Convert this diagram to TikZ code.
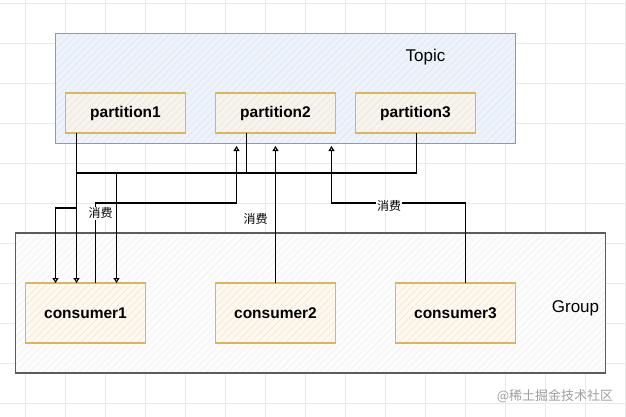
\documentclass[tikz,border=0pt]{standalone}
\usepackage{fontspec}
\setmainfont{Liberation Sans}
\newfontfamily\cjkfont{Noto Sans CJK SC}
\usetikzlibrary{positioning, arrows.meta, calc, patterns.meta}
\definecolor{topicline}{HTML}{7E9CC8}
\definecolor{topicfill}{HTML}{EEF3FB}
\definecolor{topichatch}{HTML}{DCE6F4}
\definecolor{boxline}{HTML}{D9B65A}
\definecolor{partfill}{HTML}{F7F4EE}
\definecolor{parthatch}{HTML}{ECE6DA}
\definecolor{confill}{HTML}{FDF9F0}
\definecolor{conhatch}{HTML}{F4E6CC}
\definecolor{groupline}{HTML}{5C5C5C}
\definecolor{groupfill}{HTML}{FCFCFC}
\definecolor{grouphatch}{HTML}{F0F0F0}
\definecolor{gridcol}{HTML}{E8E8E8}
\tikzset{
	hatched/.style 2 args={preaction={fill=#1}, preaction={pattern={Lines[angle=45,distance=5pt,line width=.6pt]}, pattern color=#2}},
	arrow/.style={-{Triangle[open,length=5pt,width=6pt]}, line width=1.1pt}
}

\begin{document}
\begin{tikzpicture}[x=1pt, y=-1pt,
		topicbox/.style={draw=topicline, line width=1pt, hatched={topicfill}{topichatch}, minimum width=460pt, minimum height=110pt, outer sep=0pt},
		groupbox/.style={draw=groupline, line width=1.2pt, hatched={groupfill}{grouphatch}, minimum width=590pt, minimum height=140pt, outer sep=0pt},
		partbox/.style={draw=boxline, line width=1.1pt, hatched={partfill}{parthatch}, minimum width=120pt, minimum height=40pt, outer sep=0pt, font=\fontsize{15.5}{18}\selectfont\bfseries},
		conbox/.style={draw=boxline, line width=1.1pt, hatched={confill}{conhatch}, minimum width=120pt, minimum height=60pt, outer sep=0pt, font=\fontsize{15.5}{18}\selectfont\bfseries},
		biglabel/.style={font=\fontsize{17}{20}\selectfont},
		lbl/.style={font=\cjkfont\fontsize{12}{14}\selectfont, fill=white, inner sep=1pt}
		]
		\useasboundingbox (0,0) rectangle (626,416);
		\fill[white] (0,0) rectangle (626,416);
		\begin{scope}
			\clip (0,0) rectangle (626,416);
			\draw[gridcol, line width=.6pt, shift={(25,3)}, step=40pt] (-40,-40) grid (640,440);
		\end{scope}
		
		\node[topicbox] (topic) at (285.5,88) {};
		\node[partbox] (p1) at (125.5,113) {partition1};
		\node[partbox, right=30pt of p1] (p2) {partition2};
		\node[partbox, right=20pt of p2] (p3) {partition3};
		\node[biglabel] (topiclbl) at ($(topic.north east)+(-90,24)$) {Topic};
		
		\node[groupbox] (group) at (310.5,303) {};
		\node[conbox] (c1) at (85.5,313) {consumer1};
		\node[conbox, right=70pt of c1] (c2) {consumer2};
		\node[conbox, right=60pt of c2] (c3) {consumer3};
		\node[biglabel] (grouplbl) at ($(group.east)+(-30,5)$) {Group};
		
		% partitions to consumer1
		\draw[arrow] ([xshift=11pt]p1.south west) -- ([xshift=11pt]p1.south west |- c1.north);
		\draw[arrow] ([xshift=31pt]p2.south west) -- ++(0,40) -| ([xshift=91pt]c1.north west);
		\draw[arrow] ([xshift=61pt]p3.south west) -- ++(0,40) -| ++(-340,35) -| ([xshift=30pt]c1.north west);
		
		% consumers back to the topic
		\draw[arrow] ([xshift=70pt]c1.north west) -- ++(0,-80) node[lbl, pos=.87, xshift=5pt] {消费} -| ($(p2.south west |- topic.south)+(21,3)$);
		\draw[arrow] (c2.north) -- ($(c2.north |- topic.south)+(0,3)$) node[lbl, pos=.47, xshift=-20pt, fill=none] {消费};
		\draw[arrow] ([xshift=70pt]c3.north west) -- ++(0,-80) -- ++(-134,0) node[lbl, pos=.57, yshift=-3pt] {消费} -| ($(p2.south east |- topic.south)+(-4,3)$);
		
		\node[font=\cjkfont\fontsize{13}{15}\selectfont, text=gray!75] (mark) at (555,396) {@稀土掘金技术社区};
	\end{tikzpicture}
\end{document}
